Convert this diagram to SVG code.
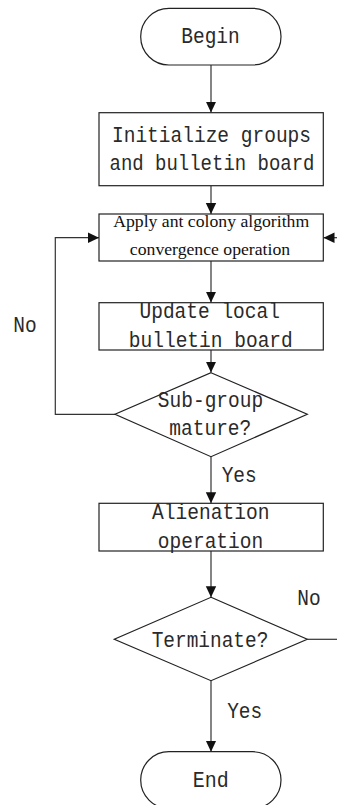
<svg xmlns="http://www.w3.org/2000/svg" width="337" height="805" viewBox="0 0 337 805">
<style>
.shape{fill:#fff;stroke:#222;stroke-width:1.2}
.mono{font-family:"Liberation Mono","DejaVu Sans Mono",monospace;font-size:22px;fill:#2a2a2a;text-anchor:middle}
.serif{font-family:"Liberation Serif","Times New Roman",serif;font-size:17.7px;fill:#111;text-anchor:middle}
.conn{fill:none;stroke:#333;stroke-width:1.2}
</style>
<defs>
<marker id="arr" markerUnits="userSpaceOnUse" markerWidth="12" markerHeight="12" viewBox="0 0 12 12" refX="11" refY="6" orient="auto">
<path d="M0,0.8 L11,6 L0,11.2 Z" fill="#111"/>
</marker>
</defs>
<rect width="337" height="805" fill="#fff"/>
<g id="connectors">
<line class="conn" x1="211" y1="65" x2="211" y2="112.5" marker-end="url(#arr)"/>
<line class="conn" x1="211" y1="185.7" x2="211" y2="214" marker-end="url(#arr)"/>
<line class="conn" x1="211" y1="261" x2="211" y2="302.5" marker-end="url(#arr)"/>
<line class="conn" x1="211" y1="350" x2="211" y2="372.5" marker-end="url(#arr)"/>
<polyline class="conn" points="115,414.3 55.3,414.3 55.3,237.7 99,237.7" marker-end="url(#arr)"/>
<line class="conn" x1="211" y1="456.7" x2="211" y2="503.3" marker-end="url(#arr)"/>
<line class="conn" x1="211" y1="551" x2="211" y2="597.3" marker-end="url(#arr)"/>
<line class="conn" x1="307.3" y1="639.3" x2="337" y2="639.3"/>
<line class="conn" x1="340" y1="237.7" x2="323.5" y2="237.7" marker-end="url(#arr)"/>
<line class="conn" x1="211" y1="680.7" x2="211" y2="751.7" marker-end="url(#arr)"/>
<text class="mono" x="25" y="331.7" textLength="23.4" lengthAdjust="spacingAndGlyphs">No</text>
<text class="mono" x="239.2" y="481.7" textLength="35" lengthAdjust="spacingAndGlyphs">Yes</text>
<text class="mono" x="309" y="605" textLength="23.4" lengthAdjust="spacingAndGlyphs">No</text>
<text class="mono" x="244.7" y="717.7" textLength="35" lengthAdjust="spacingAndGlyphs">Yes</text>
</g>
<g id="begin">
<rect class="shape" x="140.7" y="8.3" width="140.3" height="56.7" rx="28.3" ry="28.3"/>
<text class="mono" x="210.5" y="43.3" textLength="58.5" lengthAdjust="spacingAndGlyphs">Begin</text>
</g>
<g id="init">
<rect class="shape" x="99" y="112.7" width="224.3" height="73"/>
<text class="mono" x="211.5" y="141.7" textLength="199" lengthAdjust="spacingAndGlyphs">Initialize groups</text>
<text class="mono" x="212" y="170" textLength="205" lengthAdjust="spacingAndGlyphs">and bulletin board</text>
</g>
<g id="apply">
<rect class="shape" x="99" y="214" width="224.3" height="47"/>
<text class="serif" x="211.2" y="226.7">Apply ant colony algorithm</text>
<text class="serif" x="210" y="255">convergence operation</text>
</g>
<g id="update">
<rect class="shape" x="99" y="302.7" width="224.3" height="47.3"/>
<text class="mono" x="209.7" y="318.3" textLength="140.4" lengthAdjust="spacingAndGlyphs">Update local</text>
<text class="mono" x="210.8" y="346.7" textLength="164" lengthAdjust="spacingAndGlyphs">bulletin board</text>
</g>
<g id="mature">
<polygon class="shape" points="211,372.7 307.3,414.3 211,456.7 115,414.3"/>
<text class="mono" x="210.5" y="407.3" textLength="105.3" lengthAdjust="spacingAndGlyphs">Sub-group</text>
<text class="mono" x="210.3" y="435" textLength="82" lengthAdjust="spacingAndGlyphs">mature?</text>
</g>
<g id="alienation">
<rect class="shape" x="99" y="503.3" width="224.3" height="47.7"/>
<text class="mono" x="210.8" y="519.3" textLength="117.5" lengthAdjust="spacingAndGlyphs">Alienation</text>
<text class="mono" x="210.5" y="548.3" textLength="105.3" lengthAdjust="spacingAndGlyphs">operation</text>
</g>
<g id="terminate">
<polygon class="shape" points="211,597.3 307.3,639.3 211,680.7 114.3,639.3"/>
<text class="mono" x="210" y="646.7" textLength="116.7" lengthAdjust="spacingAndGlyphs">Terminate?</text>
</g>
<g id="end">
<rect class="shape" x="140.7" y="751.7" width="140.3" height="56.7" rx="28.3" ry="28.3"/>
<text class="mono" x="210.8" y="786.7" textLength="36" lengthAdjust="spacingAndGlyphs">End</text>
</g>
</svg>
